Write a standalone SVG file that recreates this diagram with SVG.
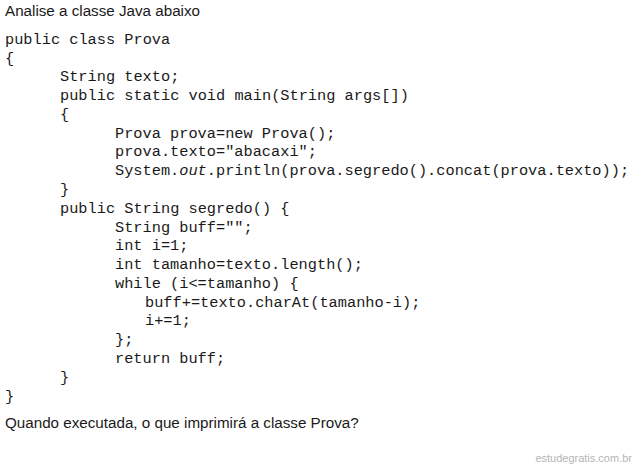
<svg xmlns="http://www.w3.org/2000/svg" width="634" height="467" viewBox="0 0 634 467">
<style>
.t{font-family:"Liberation Sans",Arial,sans-serif;font-size:15.2px;fill:#1a1a1a}
.c{font-family:"Liberation Mono","Courier New",monospace;font-size:15.3px;fill:#1a1a1a;white-space:pre}
.w{font-family:"Liberation Sans",Arial,sans-serif;font-size:11px;fill:#b4b4b4}
</style>
<rect width="634" height="467" fill="#ffffff"/>
<text class="t" x="5" y="16">Analise a classe Java abaixo</text>
<g id="code">
<text class="c" x="5" y="43.7">public class Prova</text>
<text class="c" x="5" y="62.5">{</text>
<text class="c" x="60" y="81.3">String texto;</text>
<text class="c" x="60" y="100">public static void main(String args[])</text>
<text class="c" x="60" y="118.8">{</text>
<text class="c" x="115" y="137.6">Prova prova=new Prova();</text>
<text class="c" x="115" y="156.4">prova.texto="abacaxi";</text>
<text class="c" x="115" y="175.2">System.<tspan font-style="italic">out</tspan>.println(prova.segredo().concat(prova.texto));</text>
<text class="c" x="60" y="193.9">}</text>
<text class="c" x="60" y="212.7">public String segredo() {</text>
<text class="c" x="115" y="231.5">String buff="";</text>
<text class="c" x="115" y="250.3">int i=1;</text>
<text class="c" x="115" y="269.1">int tamanho=texto.length();</text>
<text class="c" x="115" y="287.8">while (i&lt;=tamanho) {</text>
<text class="c" x="145" y="306.6">buff+=texto.charAt(tamanho-i);</text>
<text class="c" x="145" y="325.4">i+=1;</text>
<text class="c" x="115" y="344.2">};</text>
<text class="c" x="115" y="363">return buff;</text>
<text class="c" x="60" y="381.7">}</text>
<text class="c" x="5" y="400.5">}</text>
</g>
<text class="t" x="5" y="428">Quando executada, o que imprimirá a classe Prova?</text>
<text class="w" x="632" y="462" text-anchor="end">estudegratis.com.br</text>
</svg>
